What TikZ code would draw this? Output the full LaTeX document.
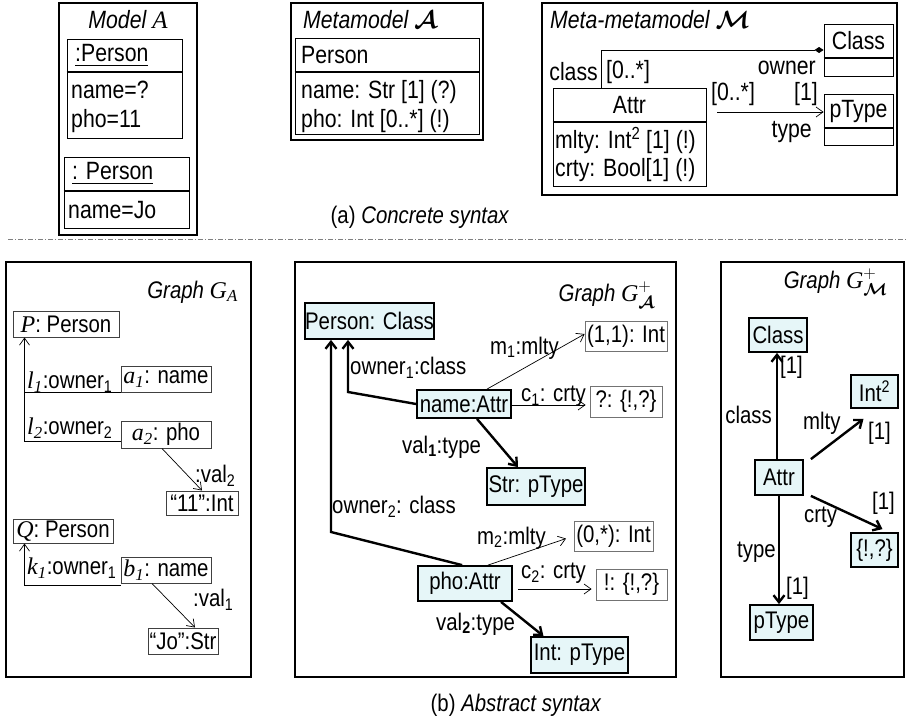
\documentclass[tikz,border=0pt]{standalone}
\usepackage{amsmath}
\usepackage{fontspec}
\setmainfont{Liberation Sans}[FakeStretch=0.85]
\newfontfamily\serfam{Liberation Serif}
\usetikzlibrary{arrows.meta,positioning}
\definecolor{boxfill}{RGB}{230,246,248}
\newcommand\mvar[1]{{\serfam\itshape #1}}
\newcommand\calA{$\boldsymbol{\mathcal{A}}$}
\newcommand\calM{$\boldsymbol{\mathcal{M}}$}

\begin{document}
\begin{tikzpicture}[x=1pt, y=-1pt,
    font=\fontsize{24}{28}\selectfont,
    frame/.style={draw, line width=2pt},
    umlbox/.style={draw, line width=0.8pt, inner sep=0pt},
    sep/.style={line width=1.4pt},
    plain/.style={draw=black!75, line width=1pt, inner sep=0pt},
    inst/.style={draw, line width=1.8pt, fill=boxfill, inner sep=0pt},
    val/.style={draw=black!55, line width=0.8pt, inner sep=0pt},
    lbl/.style={inner sep=0pt, anchor=west},
    rlbl/.style={inner sep=0pt, anchor=east},
    thin arrow/.style={line width=0.7pt, -{Straight Barb[length=7pt,width=10pt]}},
    bold arrow/.style={line width=2.4pt, -{Straight Barb[length=7pt,width=11pt]}}]
    \useasboundingbox (0,0) rectangle (906,720);

    % ---- (a) concrete syntax ----
    \begin{scope}[font=\fontsize{25}{30}\selectfont]
    % model A
    \draw[frame] (59,3) rectangle (197,235);
    \node[inner sep=0pt] (ttlA) at (128,20) {\itshape Model \mvar{A}};
    \node[umlbox, minimum width=115pt, minimum height=99pt] (pa) at (124.5,88.5) {};
    \draw[sep] (pa.west |- 0,72) -- (pa.east |- 0,72);
    \node[lbl] (pa1) at (75,56) {\underline{:Person}};
    \node[lbl] (pa2) at (71,90) {name=?};
    \node[lbl] (pa3) at (71,121) {pho=11};
    \node[umlbox, minimum width=125pt, minimum height=71pt] (pb) at (126.5,192.5) {};
    \draw[sep] (pb.west |- 0,191) -- (pb.east |- 0,191);
    \node[lbl] (pb1) at (72,174) {\underline{: Person}};
    \node[lbl] (pb2) at (68,210) {name=Jo};

    % metamodel
    \draw[frame] (291,3) rectangle (483,140);
    \node[lbl] (ttlMM) at (303,20) {\itshape Metamodel \calA};
    \node[umlbox, minimum width=184pt, minimum height=96pt] (mperson) at (387,86) {};
    \draw[sep] (mperson.west |- 0,72) -- (mperson.east |- 0,72);
    \node[lbl] (mp1) at (301,55) {Person};
    \node[lbl] (mp2) at (301,92) {name: Str [1] (?)};
    \node[lbl] (mp3) at (301,121) {pho: Int [0..*] (!)};

    % meta-metamodel
    \draw[frame] (542,3) rectangle (897,195);
    \node[lbl] (ttlMMM) at (550,20) {\itshape Meta-metamodel \calM};
    \node[umlbox, minimum width=69pt, minimum height=52pt] (classm) at (858.5,50) {};
    \draw[sep] (classm.west |- 0,58) -- (classm.east |- 0,58);
    \node[inner sep=0pt] (classmt) at (858.5,41) {Class};
    \node[umlbox, minimum width=69pt, minimum height=51pt] (ptypem) at (858.5,119.5) {};
    \draw[sep] (ptypem.west |- 0,128) -- (ptypem.east |- 0,128);
    \node[inner sep=0pt] (ptypemt) at (858.5,111) {pType};
    \node[umlbox, minimum width=153pt, minimum height=98pt] (attrm) at (629.5,137) {};
    \draw[sep] (attrm.west |- 0,122) -- (attrm.east |- 0,122);
    \node[inner sep=0pt] (attrmt) at (629.5,105) {Attr};
    \node[lbl] (am1) at (555,140) {mlty: Int\textsuperscript{2} [1] (!)};
    \node[lbl] (am2) at (555,170) {crty: Bool[1] (!)};
    \draw[line width=0.8pt, -{Diamond[length=9pt,width=6pt]}] ([xshift=49pt]attrm.north west) |- (classm.west);
    \node[rlbl] (mcls) at (598,72) {class};
    \node[lbl] (mcm) at (606,72) {[0..*]};
    \node[rlbl] (mown) at (816,68) {owner};
    \coordinate (tys) at (717,112);
    \draw[thin arrow] (tys) -- (tys -| ptypem.west);
    \node[lbl] (mtm) at (711,94) {[0..*]};
    \node[rlbl] (mt1) at (818,94) {[1]};
    \node[rlbl] (mty) at (812,132) {type};
    \end{scope}
    \node (capa) at (420,217) {(a) \textit{Concrete syntax}};
    \draw[black!50, line width=0.8pt, dash pattern=on 5pt off 2pt on 1pt off 2pt] (8,239) -- (906,239);

    % ---- (b) abstract syntax ----
    % graph G_A
    \draw[frame] (6,262) rectangle (251,677);
    \node[rlbl] (ttlGA) at (238,292) {\itshape Graph \mvar{G\textsubscript{A}}};
    \node[plain, minimum width=106pt, minimum height=26pt] (P) at (66,324) {\mvar{P}: Person};
    \node[plain, minimum width=90pt, minimum height=26pt] (a1) at (166,379) {\mvar{a\textsubscript{1}}: name};
    \node[plain, minimum width=90pt, minimum height=27pt] (a2) at (166,434.5) {\mvar{a\textsubscript{2}}: pho};
    \node[plain, minimum width=72pt, minimum height=24pt] (i11) at (202,503) {“11”:Int};
    \node[plain, minimum width=100pt, minimum height=24pt] (Q) at (63,531) {\mvar{Q}: Person};
    \node[plain, minimum width=90pt, minimum height=26pt] (b1) at (166,570) {\mvar{b\textsubscript{1}}: name};
    \node[plain, minimum width=70pt, minimum height=26pt] (jo) at (183,641) {“Jo”:Str};
    \coordinate (pfoot) at ([xshift=12pt]P.south west);
    \coordinate (l2) at ([yshift=7pt]a2.south west);
    \draw[line width=0.8pt] (a1.south west) -- (a1.south west -| pfoot);
    \draw[line width=1.6pt] (l2) -- (l2 -| pfoot);
    \draw[thin arrow] (l2 -| pfoot) -- (pfoot);
    \node[lbl] (l1lab) at (27,382) {\mvar{l\textsubscript{1}}:owner\textsubscript{1}};
    \node[lbl] (l2lab) at (27,428) {\mvar{l\textsubscript{2}}:owner\textsubscript{2}};
    \coordinate (qfoot) at ([xshift=12pt]Q.south west);
    \coordinate (k1) at ([yshift=-2pt]b1.south west);
    \draw[line width=1.6pt] (k1) -- (k1 -| qfoot);
    \draw[thin arrow] (k1 -| qfoot) -- (qfoot);
    \node[lbl] (k1lab) at (27,568) {\mvar{k\textsubscript{1}}:owner\textsubscript{1}};
    \draw[thin arrow] ([xshift=-4pt]a2.south) -- (i11.north);
    \node[lbl] (v2lab) at (195,476) {:val\textsubscript{2}};
    \draw[thin arrow] ([xshift=-14pt]b1.south) -- ([xshift=12pt]jo.north);
    \node[lbl] (v1lab) at (193,600) {:val\textsubscript{1}};

    % graph G+ of metamodel
    \draw[frame] (295,262) rectangle (676,677);
    \node[rlbl] (ttlGAp) at (655,295) {\itshape Graph \mvar{G}$^{+}_{\boldsymbol{\mathcal{A}}}$};
    \node[inst, minimum width=129pt, minimum height=36pt] (personc) at (369.5,321) {Person: Class};
    \node[inst, minimum width=94pt, minimum height=28pt] (namea) at (464,404) {name:Attr};
    \node[val, minimum width=82pt, minimum height=30pt] (m1v) at (626,336) {(1,1): Int};
    \node[val, minimum width=72pt, minimum height=31pt] (c1v) at (626,401.5) {?: \{!,?\}};
    \node[inst, minimum width=98pt, minimum height=37pt] (strp) at (536,486.5) {Str: pType};
    \node[inst, minimum width=94pt, minimum height=35pt] (phoa) at (465,583.5) {pho:Attr};
    \node[val, minimum width=79pt, minimum height=30pt] (m2v) at (613.5,536) {(0,*): Int};
    \node[val, minimum width=71pt, minimum height=31pt] (c2v) at (631.5,584.5) {!: \{!,?\}};
    \node[inst, minimum width=97pt, minimum height=36pt] (intp) at (579.5,655) {Int: pType};
    \coordinate (o1bend) at (348,392);
    \draw[bold arrow] (namea.west) -- (o1bend) -- (o1bend |- personc.south);
    \coordinate (o2bend) at (331,532);
    \draw[bold arrow] ([xshift=45pt]phoa.north west) -- (o2bend) -- (o2bend |- personc.south);
    \draw[thin arrow] ([xshift=23pt]namea.north) -- ([yshift=2pt]m1v.west);
    \draw[thin arrow, shorten >=4pt] ([yshift=-1pt]namea.east) -- ([yshift=-1pt]namea.east -| c1v.west);
    \draw[bold arrow] ([xshift=13pt]namea.south) -- ([xshift=-18pt]strp.north);
    \draw[thin arrow, shorten >=8pt] ([xshift=23pt]phoa.north) -- (m2v.west);
    \draw[thin arrow, shorten >=4pt] ([xshift=5pt,yshift=-5.5pt]phoa.east) -- ([yshift=-5.5pt]phoa.east -| c2v.west);
    \draw[bold arrow] ([xshift=36pt]phoa.south) -- ([xshift=-36pt]intp.north);
    \node[lbl] (o1lab) at (350,368) {owner\textsubscript{1}:class};
    \node[lbl] (m1lab) at (490,348) {m\textsubscript{1}:mlty};
    \node[lbl] (c1lab) at (521,396) {c\textsubscript{1}: crty};
    \node[lbl] (v1tlab) at (402,447) {val\textsubscript{\textbf{1}}:type};
    \node[lbl] (o2lab) at (332,507) {owner\textsubscript{2}: class};
    \node[lbl] (m2lab) at (477,538) {m\textsubscript{2}:mlty};
    \node[lbl] (c2lab) at (521,573) {c\textsubscript{2}: crty};
    \node[lbl] (v2tlab) at (436,624) {val\textsubscript{\textbf{2}}:type};

    % graph G+ of meta-metamodel
    \draw[frame] (721,262) rectangle (904,677);
    \node[rlbl] (ttlGMp) at (888,282) {\itshape Graph \mvar{G}$^{+}_{\boldsymbol{\mathcal{M}}}$};
    \node[inst, minimum width=58pt, minimum height=34pt] (classr) at (778,335) {Class};
    \node[inst, minimum width=47pt, minimum height=33pt] (int2r) at (874.5,391.5) {Int\textsuperscript{2}};
    \node[inst, minimum width=48pt, minimum height=35pt] (attrr) at (779,477.5) {Attr};
    \node[inst, minimum width=47pt, minimum height=34pt] (bangr) at (874.5,550) {\{!,?\}};
    \node[inst, minimum width=63pt, minimum height=35pt] (ptyper) at (781.5,622.5) {pType};
    \draw[bold arrow] ([xshift=-2pt]attrr.north) -- ([xshift=-2pt]attrr.north |- classr.south);
    \draw[bold arrow] ([xshift=7pt]attrr.north east) -- ([xshift=-11pt,yshift=-10pt]int2r.south);
    \draw[bold arrow] ([xshift=7pt]attrr.south east) -- ([xshift=8pt,yshift=3pt]bangr.north);
    \draw[bold arrow] (attrr.south) -- (attrr.south |- ptyper.north);
    \node[lbl] (r1) at (780,367) {[1]};
    \node[rlbl] (rcls) at (772,415) {class};
    \node[lbl] (rmlty) at (803,423) {mlty};
    \node[lbl] (r2) at (868,433) {[1]};
    \node[lbl] (rcrty) at (804,517) {crty};
    \node[lbl] (r3) at (872,503) {[1]};
    \node[rlbl] (rtype) at (776,552) {type};
    \node[lbl] (r4) at (786,588) {[1]};

    \node (capb) at (516,705) {(b) \textit{Abstract syntax}};
\end{tikzpicture}
\end{document}
